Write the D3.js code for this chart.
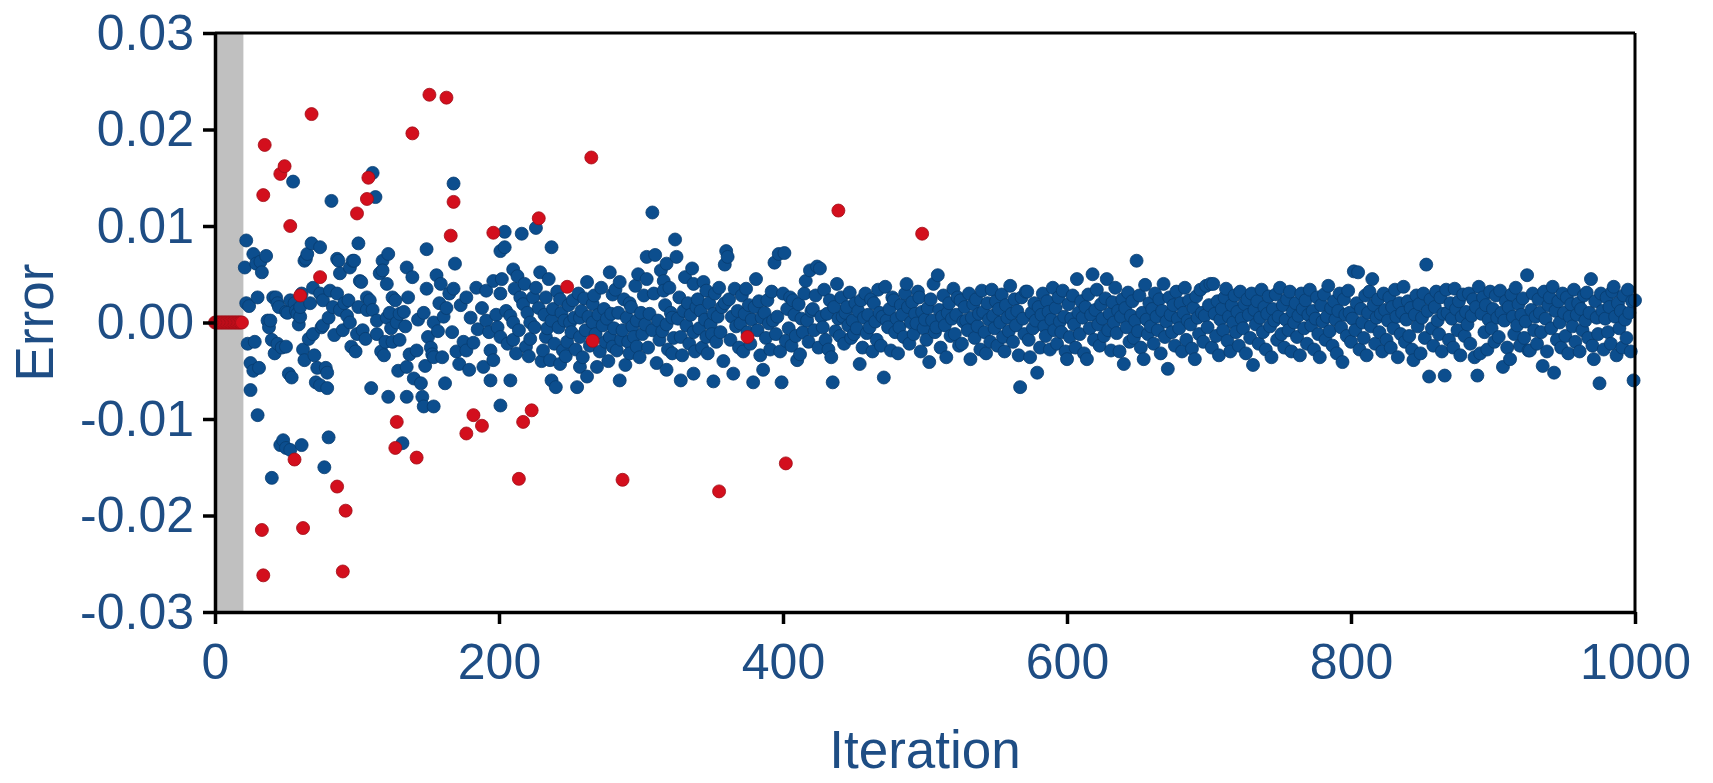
<!DOCTYPE html>
<html>
<head>
<meta charset="utf-8">
<script src="https://cdn.jsdelivr.net/npm/d3@7"></script>
<style>
  html, body { margin: 0; padding: 0; background: #fff; }
  svg { display: block; }
  text { font-family: "Liberation Sans", Arial, sans-serif; }
</style>
</head>
<body>
<script>
// ---------------- DATA ----------------
const xTicks = [0, 200, 400, 600, 800, 1000];
const yTicks = [-0.03, -0.02, -0.01, 0, 0.01, 0.02, 0.03];
const xLabel = "Iteration";
const yLabel = "Error";
const greyBandIterations = [0, 20];

// initial iterations (red, error 0)
const initIterations = [0,1,2,3,4,5,6,7,8,9,10,11,12,13,14,15,16,17,18,19];

// red points: [iteration, error x 1e-3]
const redPoints = [
  [35,18.4],[34,13.2],[33,-21.5],[34,-26.2],[46,15.4],[49,16.2],[53,10.0],[56,-14.2],[60,2.8],[62,-21.3],
  [68,21.6],[74,4.7],[86,-17.0],[90,-25.8],[92,-19.5],[100,11.3],[107,12.8],[108,15.0],[128,-10.3],[127,-13.0],
  [139,19.6],[142,-14.0],[151,23.6],[163,23.3],[168,12.5],[166,9.0],[177,-11.5],[182,-9.6],[188,-10.7],[196,9.3],
  [214,-16.2],[217,-10.3],[223,-9.1],[228,10.8],[248,3.7],[265,17.1],[266,-1.9],[287,-16.3],[355,-17.5],[375,-1.5],
  [402,-14.6],[439,11.6],[498,9.2]
];

// blue points, early iterations: [iteration, error x 1e-3]
const blueEarly = [
  [21,5.7],[22,8.5],[22,2.0],[23,-2.2],[24,1.7],[25,-4.2],[25,-7.0],[27,7.1],[27,-5.0],[28,-2.0],[29,6.1],[30,2.6],[30,-9.6],
  [31,-4.7],[32,6.3],[33,5.2],[36,6.9],[37,0.2],[38,-0.5],[39,0.2],[40,-16.1],[40,-1.8],
  [41,2.6],[42,-3.2],[43,2.6],[44,2.0],[44,-2.2],[45,1.6],[46,-12.7],[47,-2.6],[48,-12.2],[50,-13.0],[50,1.1],[50,-2.5],
  [51,1.0],[52,-5.3],[53,-13.2],[53,2.3],[54,-5.7],[55,14.6],[56,2.0],[57,1.2],[58,0.9],[59,-0.2],[60,0.6],[60,1.6],
  [61,-12.7],[61,3.0],[62,-2.8],[63,-3.9],[63,6.4],[64,6.6],[65,7.1],[66,-1.7],[67,2.0],[68,8.2],[69,3.6],[69,-1.2],[70,-3.4],
  [71,-6.2],[72,-4.7],[74,7.8],[74,-6.5],[74,3.0],[75,-0.5],[76,2.3],[76,-0.3],[77,-15.0],[78,-4.7],[79,-5.2],[79,-6.8],[80,-11.9],[80,0.5],
  [81,3.3],[82,12.6],[83,1.6],[84,-1.3],[86,3.0],[86,6.6],[87,6.4],[88,5.1],[88,1.3],[90,-0.8],
  [91,2.0],[93,0.7],[94,2.3],[95,5.7],[95,0],[96,-2.5],[97,6.4],[98,6.4],[99,-3.0],[100,-1.2],
  [101,8.2],[101,1.6],[102,4.3],[103,4.2],[104,-0.8],[106,-1.7],[107,1.3],[107,2.6],[109,2.3],[110,-6.8],
  [111,15.5],[111,1.3],[113,13.0],[114,0.2],[114,-1.2],[116,5.1],[117,-3.0],[118,6.4],[118,5.4],[119,-3.4],[120,-2.0],
  [121,4.0],[121,0.5],[122,7.1],[122,-7.7],[123,1.0],[124,-0.6],[125,2.6],[125,-2.0],[127,2.3],[128,0],[129,-5.0],[130,0.9],[130,-1.8],
  [132,-12.5],[133,1.1],[134,-0.4],[135,5.7],[135,-4.6],[135,-7.7],[136,2.6],[137,-3.3],[139,4.7],[140,-5.8],
  [142,-2.9],[143,0.3],[145,-6.3],[146,-7.7],[147,1.0],[147,-8.7],[148,-4.5],[149,7.6],[149,3.5],[150,-1.5],
  [152,-2.6],[153,-3.3],[154,0],[154,-8.7],[154,-3.6],[156,4.9],[157,-0.9],[158,2.0],[159,4.0],[160,-3.6],
  [161,0.6],[162,-6.3],[163,1.5],[165,3.0],[167,-1.0],[168,14.4],[168,3.5],[169,6.1],[170,-3.0],
  [172,-4.3],[173,1.8],[175,-2.0],[177,2.6],[177,-2.9],[179,-4.9],[180,0.5],
  [182,-2.1],[184,3.6],[185,-0.7],
  [188,1.5],[189,-4.6],[191,3.3],[191,0.2],[193,-1.0],[194,-2.9],[194,-6.0],[196,4.3],[196,-3.9],[198,0.8],[199,-0.5],
  [201,7.4],[201,3.0],[201,-1.5],[201,-8.6],[202,4.5],[204,9.4],[204,7.8],[205,1.2],[206,-2.2],[208,0.7],[208,-6.0],
  [210,5.5],[210,0],[210,-1.8],[211,3.5],[212,-3.2],[213,4.8],[214,-0.8],[215,2.6],[216,9.2],[217,1.9],[218,4.0],[219,-2.5],
  [220,1.0],[221,-3.5],[222,0],[222,-1.7],[224,2.6],[225,-0.5],[226,9.8],[226,3.6],[228,1.5],[229,5.2],[230,-4.0],
  [231,-2.9],[232,0.8],[233,2.6],[233,-1.5],[234,-0.6],[235,4.5],[236,-3.9],[237,7.8],[237,0.2],[237,-6.0],[238,1.4],[239,-2.2],
  [240,-6.7],[241,3.2],[242,-0.5],[243,2.4],[243,-4.3],[244,1.0],[245,-2.9],[246,0.2],[247,-3.5],[248,-2.0],[249,1.8],
  [250,0],[251,-1.0],[252,2.3],[253,0.5],[254,-2.8],[255,-6.7],[256,3.0],[257,0.5],[257,-1.5],[257,-4.6],[258,1.2],[259,-3.6],
  [260,2.5],[261,-0.8],[262,4.2],[262,-5.6],[263,0.6],[264,-2.4],[266,1.9],[266,0],[267,2.8],[268,-1.2],[269,-4.6],
  [270,0.8],[271,-3.0],[272,3.6],[273,-0.3],[274,1.4],[275,-2.0],[276,0.4],[277,-4.0],[278,5.2],[278,-1.5],[279,0.9],
  [280,2.9],[280,-2.5],[281,-0.6],[282,3.4],[283,-2.9],[284,1.0],[285,4.2],[285,-6.0],[286,-1.8],[287,-0.8],[288,2.4],[289,-4.4],
  [290,0.5],[291,-2.0],[292,2.0],[292,-3.2],[293,1.6],[294,-0.4],[295,-1.5],[296,3.8],[297,0.2],[297,-2.5],[298,5.0],[299,-3.6],
  [300,1.0],[301,-1.2],[302,2.8],[303,-0.2],[304,6.8],[304,4.5],[305,-2.6],[306,0.9],[308,-0.8],[308,11.4],[309,3.0],
  [310,7.0],[311,-4.2],[312,0.2],[313,-1.8],[314,5.4],[315,-0.9],[316,4.3],[316,3.3],[317,1.8],[318,6.1],[318,-0.2],[318,-4.9],[319,-2.8],
  [320,3.6],[321,1.0],[322,0.5],[322,-3.2],[323,-1.6],[324,8.6],[325,6.8],[326,0.4],[327,2.6],[328,-6.0],[328,-1.5],[329,-3.4],
  [330,1.2],[331,4.7],[332,-0.3],[333,2.0],[334,-2.2],[335,0.8],[336,5.6],[337,4.0],[337,-5.3],[337,-1.0],[338,-3.0],[339,1.6],
  [340,2.4],[341,-0.6],[342,1.2],[343,-2.6],[344,4.2],[345,0.3],[346,3.3],[346,-1.5],[347,-3.2],[348,2.0],[349,-0.2],
  [350,-1.2],[351,0.9],[351,-6.1],[352,3.0],[353,-2.0],[354,0.6],[355,3.6],[356,-1.0],[357,1.6],[358,-4.0],[359,6.0],[359,2.0],[360,7.4]
];

// blue points, one per iteration from 361 to 1000: error x 1e-3
const blueLateStart = 361;
const blueLate = [
  6.8,2.4,-1.8,0.6,-5.3,3.5,-0.4,1.2,-2.6,-0.1,
  2.8,-3.0,0.9,3.5,-1.0,1.8,-2.2,0.3,-6.2,1.6,
  4.5,-0.8,2.2,-3.4,0.5,-4.9,1.0,-1.6,2.3,-0.1,
  -2.8,3.2,0.2,6.2,-1.2,0.6,7.1,-3.0,-6.2,3.0,
  7.2,-1.9,1.4,-0.6,2.6,-2.4,2.3,0.8,-1.4,-3.9,
  1.9,-3.3,0.4,-1.0,3.0,4.3,0.2,-2.0,5.4,1.2,
  1.4,-0.8,2.8,5.8,-2.6,5.6,0.6,-0.5,3.4,-1.8,
  0.9,-2.8,2.3,-3.6,-6.2,1.6,-0.9,4.0,0.4,-1.4,
  2.6,0.6,-2.2,1.0,1.6,-0.3,3.1,-1.6,0.2,-1.2,
  2.0,-0.6,1.2,-4.3,2.3,-2.6,0.5,3.0,-1.1,0.8,
  -0.5,2.4,-3.0,2.0,0.1,-1.8,3.4,1.0,-2.4,0.6,
  -5.7,3.7,0.2,-0.5,1.4,-2.9,2.6,2.3,-1.0,0.4,
  -3.2,-0.5,1.8,0.8,-1.5,3.0,4.0,1.6,-2.2,0.0,
  2.1,-1.2,0.9,-0.1,3.2,2.6,-3.0,1.1,-0.6,0.3,
  -1.8,1.5,-4.1,2.4,0.2,4.0,-1.0,-0.5,4.9,1.3,
  -2.6,0.6,2.8,-0.3,-3.6,1.0,2.0,-1.4,0.4,3.5,
  -1.2,0.8,2.6,-2.4,2.3,-2.2,0.1,1.6,0.2,-0.8,
  3.0,-3.8,0.5,1.9,-1.6,2.4,-0.4,0.9,-2.8,3.3,
  1.1,-1.0,-3.2,2.0,0.3,-2.0,3.4,0.7,-0.6,2.2,
  -2.4,1.4,0.0,2.9,-1.5,-3.0,1.8,0.5,-0.9,3.8,
  0.9,-2.0,2.4,-0.3,1.2,-3.4,-6.7,2.6,0.4,-1.2,
  3.2,3.2,-1.8,-3.6,1.0,-0.6,2.0,0.2,-5.2,1.6,
  -2.6,0.8,3.0,-0.4,-1.4,2.2,1.1,-2.8,0.3,3.6,
  -0.8,1.5,-2.2,2.6,0.1,-1.0,3.3,0.6,-3.0,-3.8,
  1.9,-1.5,0.4,2.8,-0.2,-2.6,4.5,1.0,-1.2,2.2,
  0.5,-3.2,1.6,-3.8,2.9,-0.6,0.8,5.0,-1.8,1.3,
  3.4,-0.2,-2.4,1.9,0.4,-1.4,2.5,4.5,-0.8,0.9,
  -2.9,2.1,0.0,3.6,-1.1,1.2,-3.0,0.6,2.4,-4.3,
  1.5,-0.5,3.1,-2.0,0.7,2.2,-1.6,0.2,6.4,-0.9,
  2.8,-2.6,1.0,-3.8,3.9,0.3,-1.2,2.0,-0.4,1.4,
  -2.2,3.0,0.6,-0.8,2.4,-3.2,1.2,4.0,-1.5,0.1,
  -4.8,2.6,0.8,-1.0,1.8,-2.4,3.2,0.4,-0.6,2.0,
  -3.0,1.0,3.6,-1.8,0.2,2.3,-0.2,-2.7,1.5,-3.8,
  2.7,0.5,-1.2,3.4,1.0,-2.0,0.7,3.8,-0.5,1.8,
  4.0,-2.6,4.0,0.9,-1.4,2.2,-3.4,0.3,1.4,-0.8,
  2.6,3.5,-1.9,0.6,-3.0,1.8,0.0,2.8,-1.0,1.1,
  -2.4,3.2,0.4,-0.6,1.9,-3.2,2.4,0.8,-1.6,3.0,
  -4.4,1.3,-0.2,2.2,-2.2,0.5,3.4,-1.0,1.6,-2.8,
  0.9,2.7,-0.4,-3.6,1.4,0.2,2.9,-1.8,0.6,3.6,
  -1.2,1.8,-2.6,0.3,2.4,-0.8,3.2,-3.0,1.1,0.0,
  2.0,-1.5,0.7,-3.4,3.0,1.4,-0.6,2.3,-2.2,0.8,
  3.4,-0.3,1.2,-2.8,0.4,2.6,-1.2,-3.6,1.8,0.1,
  2.9,-1.8,0.6,3.8,-0.9,1.5,-2.4,2.2,0.3,-3.2,
  1.2,3.0,-0.5,-4.1,2.4,0.8,-1.4,3.3,1.0,-2.0,
  0.4,5.3,-0.8,2.0,5.2,-2.8,1.4,0.0,-1.6,2.8,
  -3.4,1.0,3.2,-0.4,4.5,1.8,-2.2,0.5,2.4,-1.0,
  0.9,-3.0,3.0,1.3,-1.8,0.2,2.6,-2.6,1.6,-0.6,
  3.4,0.6,-3.6,2.0,-1.2,1.0,3.7,-2.0,0.3,2.2,
  -1.4,1.5,-2.8,-3.9,0.8,2.8,-0.4,1.9,-3.2,0.5,
  3.0,-1.6,6.0,1.2,-5.6,2.4,-0.6,-2.4,1.6,3.2,
  0.2,-1.2,2.6,-3.0,0.9,-5.5,3.4,1.0,-1.8,2.0,
  0.4,-2.6,3.5,1.4,-0.8,2.2,-3.4,0.6,2.9,-1.4,
  1.1,-0.2,3.0,-2.2,0.7,2.4,-3.6,1.6,-5.5,3.7,
  -3.2,0.9,2.6,-1.0,1.8,-2.8,0.3,3.2,-0.6,1.4,
  -2.0,2.8,0.5,-1.5,3.3,1.0,-4.6,0.2,2.2,-2.6,
  1.6,-3.8,2.9,0.6,-1.2,3.6,-0.3,1.9,-2.4,0.8,
  2.5,-1.6,0.1,4.9,-2.9,-2.9,1.3,3.0,-0.8,0.6,
  -2.2,2.4,1.0,-1.0,-4.5,3.2,0.4,-3.0,1.8,2.6,
  -0.6,3.7,-5.2,1.2,-1.8,2.2,0.0,-2.6,3.0,1.0,
  -1.4,2.6,-3.2,0.6,1.9,-0.4,3.4,-2.0,0.8,2.0,
  -3.0,1.4,-0.8,2.8,0.2,3.1,-1.6,1.0,4.5,-2.4,
  -3.8,2.2,0.5,-1.2,-6.3,3.0,1.2,-2.8,0.4,2.6,
  -1.0,1.6,-2.2,3.2,3.7,0.6,-3.4,2.0,-0.6,1.2,
  -2.6,2.8,0.3,-1.6,3.4,1.0,-3.0,2.2,-6.0,2.3
];

// ---------------- CHART ----------------
const W = 1713, H = 783;
const plot = { left: 215, right: 1635, top: 33, bottom: 612 };
const blueColor = "#0c4e8e", blueStroke = "#083c70";
const redColor = "#d30f1d", redStroke = "#a00c16";
const textColor = "#1e4d84";
const R = 6.5;

const bluePts = blueEarly.map(d => ({ it: d[0], err: d[1] / 1000 }))
  .concat(blueLate.map((v, i) => ({ it: blueLateStart + i, err: v / 1000 })));
const redPts = initIterations.map(it => ({ it, err: 0 }))
  .concat(redPoints.map(d => ({ it: d[0], err: d[1] / 1000 })));

const x = d3.scaleLinear().domain([0, 1000]).range([plot.left, plot.right]);
const y = d3.scaleLinear().domain([-0.03, 0.03]).range([plot.bottom, plot.top]);

const svg = d3.select("body").append("svg").attr("width", W).attr("height", H);

// grey band
svg.append("rect")
  .attr("x", x(greyBandIterations[0])).attr("y", plot.top)
  .attr("width", x(greyBandIterations[1]) - x(greyBandIterations[0]))
  .attr("height", plot.bottom - plot.top)
  .attr("fill", "#c0c0c0");

// points
svg.append("g").selectAll("circle").data(bluePts).join("circle")
  .attr("cx", d => x(d.it)).attr("cy", d => y(d.err)).attr("r", R)
  .attr("fill", blueColor).attr("stroke", blueStroke).attr("stroke-width", 0.8);

svg.append("g").selectAll("circle").data(redPts).join("circle")
  .attr("cx", d => x(d.it)).attr("cy", d => y(d.err)).attr("r", R)
  .attr("fill", redColor).attr("stroke", redStroke).attr("stroke-width", 0.8);

// frame (top and right)
svg.append("line").attr("x1", plot.left).attr("x2", plot.right)
  .attr("y1", plot.top).attr("y2", plot.top).attr("stroke", "#000").attr("stroke-width", 3);
svg.append("line").attr("x1", plot.right).attr("x2", plot.right)
  .attr("y1", plot.top).attr("y2", plot.bottom).attr("stroke", "#000").attr("stroke-width", 3);

// axes
const fmtY = d => d3.format(".2f")(d).replace("\u2212", "-");
const yAxis = svg.append("g").attr("transform", `translate(${plot.left},0)`)
  .call(d3.axisLeft(y).tickValues(yTicks).tickFormat(fmtY)
    .tickSize(12).tickSizeOuter(0).tickPadding(9));
const xAxis = svg.append("g").attr("transform", `translate(0,${plot.bottom})`)
  .call(d3.axisBottom(x).tickValues(xTicks).tickFormat(d3.format("d"))
    .tickSize(12).tickSizeOuter(0).tickPadding(19));

[yAxis, xAxis].forEach(g => {
  g.select(".domain").attr("stroke", "#000").attr("stroke-width", 3.5);
  g.selectAll(".tick line").attr("stroke", "#000").attr("stroke-width", 3.5);
  g.selectAll(".tick text").attr("fill", textColor)
    .style("font-size", "50px").style("font-family", '"Liberation Sans", Arial, sans-serif');
});

// axis titles
svg.append("text")
  .attr("x", (plot.left + plot.right) / 2).attr("y", 768)
  .attr("text-anchor", "middle").attr("fill", textColor)
  .style("font-size", "53px").text(xLabel);

svg.append("text")
  .attr("transform", `translate(53,${(plot.top + plot.bottom) / 2}) rotate(-90)`)
  .attr("text-anchor", "middle").attr("fill", textColor)
  .style("font-size", "53px").text(yLabel);
</script>
</body>
</html>
